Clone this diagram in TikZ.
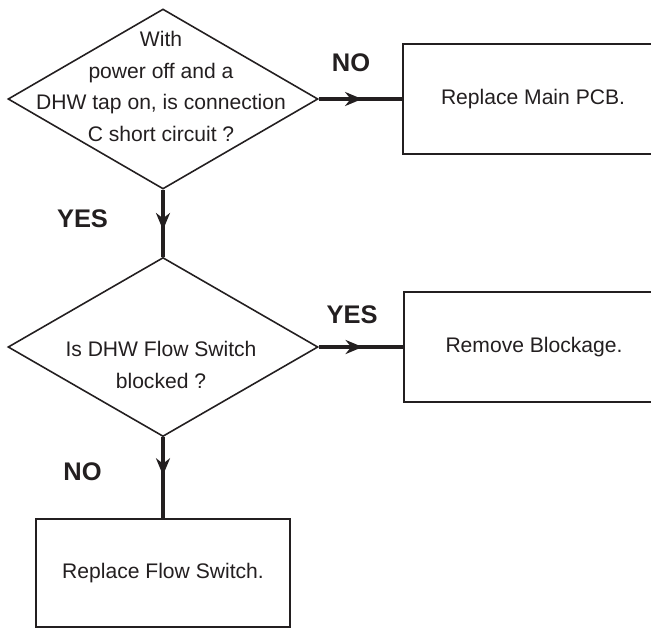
\documentclass[tikz,border=0pt]{standalone}
\usepackage{fontspec}
\setmainfont{Liberation Sans}
\usetikzlibrary{arrows.meta, positioning, shapes.geometric, decorations.markings}
\definecolor{inkblack}{HTML}{231F20}

\begin{document}
\begin{tikzpicture}[
    decision/.style={diamond, draw=inkblack, line width=0.9pt,
                     minimum width=6.2cm, minimum height=#1, inner sep=0pt},
    action/.style={draw=inkblack, line width=1.1pt, minimum width=#1,
                   minimum height=2.2cm, text=inkblack,
                   font=\fontsize{12}{18}\selectfont},
    question/.style={font=\fontsize{12}{18}\selectfont, text=inkblack,
                     align=center, inner sep=0pt},
    answer/.style={font=\fontsize{14.5}{17}\selectfont\bfseries, text=inkblack},
    flow/.style={color=inkblack, line width=2.3pt, postaction={decorate},
                 decoration={markings, mark=at position #1 with
                 {\arrow{Stealth[length=3.4mm, width=2.8mm, inset=1.1mm]}}}},
    flow/.default=0.52,
]
    \clip (0,0) rectangle (13.02,-12.58);

    % first check
    \node[decision=3.6cm] (power) at (3.26,-1.98) {};
    \node[question] (powertext) at (3.22,-1.73) {
        With\\power off and a\\DHW tap on, is connection\\C short circuit ?};
    \node[action=5.2cm] (pcb) at (10.66,-1.98) {Replace Main PCB.};

    % second check
    \node[decision=3.58cm] (flowsw) at (3.26,-6.94) {};
    \node[question] (flowswtext) at (3.22,-7.30) {Is DHW Flow Switch\\blocked ?};
    \node[action=5.2cm] (blockage) at (10.68,-6.94) {Remove Blockage.};

    \node[action=5.08cm, minimum height=2.16cm] (newsw) at (3.26,-11.46) {Replace Flow Switch.};

    \draw[flow] (power.east) -- (pcb.west);
    \draw[flow=0.6] (power.south) -- (flowsw.north);
    \draw[flow] (flowsw.east) -- (blockage.west);
    \draw[flow=0.47] (flowsw.south) -- (newsw.north);

    \node[answer] (no1) at (7.02,-1.26) {NO};
    \node[answer] (yes1) at (1.65,-4.38) {YES};
    \node[answer] (yes2) at (7.04,-6.3) {YES};
    \node[answer] (no2) at (1.65,-9.44) {NO};
\end{tikzpicture}
\end{document}
